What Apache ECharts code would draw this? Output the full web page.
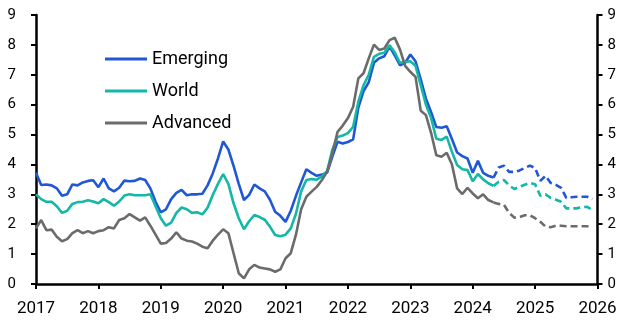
<!DOCTYPE html>
<html>
<head>
<meta charset="utf-8">
<script src="https://cdn.jsdelivr.net/npm/echarts@6/dist/echarts.min.js"></script>
<style>html,body{margin:0;padding:0;background:#fff}#c{width:637px;height:330px}</style>
</head>
<body>
<div id="c"></div>
<script>
// Monthly data from Jan 2017; month index 0 = Jan 2017
const startYear = 2017;
const yearTicks = [2017, 2018, 2019, 2020, 2021, 2022, 2023, 2024, 2025, 2026];
const emergingActual = [3.72,3.31,3.33,3.30,3.20,2.95,3.00,3.33,3.30,3.40,3.45,3.47,
  3.24,3.53,3.20,3.10,3.22,3.46,3.44,3.45,3.53,3.48,3.20,2.75,
  2.40,2.50,2.84,3.05,3.15,2.97,3.00,3.00,3.02,3.30,3.70,4.20,
  4.77,4.50,3.95,3.35,2.81,2.98,3.33,3.20,3.10,2.82,2.42,2.28,
  2.08,2.45,2.95,3.40,3.84,3.72,3.62,3.66,3.73,4.26,4.76,4.70,
  4.75,4.84,5.90,6.45,6.75,7.40,7.55,7.62,7.94,7.65,7.32,7.40,
  7.68,7.45,6.85,6.20,5.75,5.25,5.23,5.28,4.85,4.40,4.28,4.20,
  3.72,4.12,3.72,3.62,3.56];
const emergingForecast = [3.56,3.90,3.96,3.75,3.75,3.80,3.88,3.96,3.88,3.45,3.62,3.38,
  3.32,3.22,2.88,2.90,2.92,2.92,2.92,2.84];
const worldActual = [3.00,2.84,2.75,2.75,2.60,2.38,2.45,2.68,2.74,2.75,2.80,2.76,
  2.70,2.84,2.74,2.62,2.76,2.96,3.00,2.97,2.97,2.97,3.00,2.60,
  2.20,1.95,2.05,2.38,2.56,2.50,2.38,2.40,2.33,2.55,2.98,3.35,
  3.68,3.35,2.70,2.20,1.83,2.10,2.31,2.24,2.15,1.92,1.64,1.60,
  1.65,1.86,2.35,3.10,3.48,3.51,3.49,3.60,3.78,4.50,4.92,4.97,
  5.05,5.26,6.10,6.65,7.00,7.60,7.70,7.74,7.99,7.75,7.40,7.43,
  7.45,7.30,6.65,6.00,5.55,4.86,4.82,4.93,4.42,3.98,3.84,3.81,
  3.44,3.68,3.50,3.37,3.28];
const worldForecast = [3.28,3.42,3.48,3.30,3.18,3.25,3.32,3.38,3.34,2.95,3.00,2.88,
  2.82,2.75,2.53,2.53,2.53,2.57,2.58,2.48];
const advancedActual = [1.86,2.14,1.80,1.82,1.58,1.43,1.50,1.70,1.80,1.70,1.77,1.70,
  1.77,1.80,1.90,1.86,2.14,2.20,2.34,2.23,2.12,2.23,1.95,1.65,
  1.35,1.37,1.52,1.73,1.52,1.45,1.42,1.35,1.25,1.20,1.45,1.65,
  1.83,1.70,1.03,0.36,0.19,0.49,0.64,0.55,0.52,0.49,0.41,0.49,
  0.86,1.03,1.65,2.50,2.92,3.09,3.25,3.48,3.76,4.37,5.09,5.30,
  5.55,5.93,6.88,7.05,7.55,8.01,7.83,7.88,8.16,8.24,7.85,7.30,
  7.10,6.93,5.80,5.65,5.05,4.31,4.26,4.39,4.00,3.20,3.01,3.22,
  3.03,2.87,3.00,2.81,2.73];
const advancedForecast = [2.73,2.68,2.65,2.38,2.22,2.24,2.30,2.30,2.20,2.08,1.92,1.90,
  1.95,1.95,1.93,1.93,1.93,1.93,1.93,1.94];
const forecastStart = emergingActual.length - 1;
const names = ['Emerging', 'World', 'Advanced'];
const colors = ['#1f57d4', '#14b8a6', '#6b6b6b'];

function toPts(arr, offset) {
  return arr.map((v, i) => [startYear + (i + offset) / 12, v]);
}
const actuals = [emergingActual, worldActual, advancedActual];
const forecasts = [emergingForecast, worldForecast, advancedForecast];
const series = [];
names.forEach((n, k) => {
  series.push({name: n, type: 'line', data: toPts(actuals[k], 0), showSymbol: false, symbol: 'none',
    lineStyle: {color: colors[k], width: 2.6}, itemStyle: {color: colors[k]}, z: 2 + k});
});
names.forEach((n, k) => {
  series.push({name: n + ' forecast', type: 'line', data: toPts(forecasts[k], forecastStart), showSymbol: false, symbol: 'none',
    lineStyle: {color: colors[k], width: 2.6, type: [7, 4]}, itemStyle: {color: colors[k]}, z: 2 + k});
});

const font = 'Roboto';
const axisCol = '#000';
const chart = echarts.init(document.getElementById('c'), null, {renderer: 'canvas'});
chart.setOption({
  animation: false,
  backgroundColor: '#fff',
  grid: {left: 36, right: 39.5, top: 15, bottom: 46, containLabel: false},
  legend: {
    data: names, orient: 'vertical', left: 105, top: 49, padding: 0,
    icon: 'rect', itemWidth: 42, itemHeight: 3, itemGap: 12,
    textStyle: {fontFamily: font, fontSize: 18, color: '#000', lineHeight: 20}
  },
  xAxis: {
    type: 'value', min: yearTicks[0], max: yearTicks[yearTicks.length - 1], interval: 1,
    axisLine: {show: true, onZero: false, lineStyle: {color: axisCol, width: 2.5}},
    axisTick: {show: true, length: 5, lineStyle: {color: axisCol, width: 2}},
    axisLabel: {fontFamily: font, fontSize: 17, color: '#000', margin: 16, formatter: v => String(Math.round(v))},
    splitLine: {show: false}
  },
  yAxis: [
    {type: 'value', min: 0, max: 9, interval: 1, position: 'left',
      axisLine: {show: true, lineStyle: {color: axisCol, width: 2.5}},
      axisTick: {show: true, length: 5, lineStyle: {color: axisCol, width: 2}},
      axisLabel: {fontFamily: font, fontSize: 15, color: '#000', margin: 20},
      splitLine: {show: false}},
    {type: 'value', min: 0, max: 9, interval: 1, position: 'right',
      axisLine: {show: true, lineStyle: {color: axisCol, width: 2.5}},
      axisTick: {show: true, length: 5, lineStyle: {color: axisCol, width: 2}},
      axisLabel: {fontFamily: font, fontSize: 15, color: '#000', margin: 10},
      splitLine: {show: false}}
  ],
  series: series
});
</script>
</body>
</html>
